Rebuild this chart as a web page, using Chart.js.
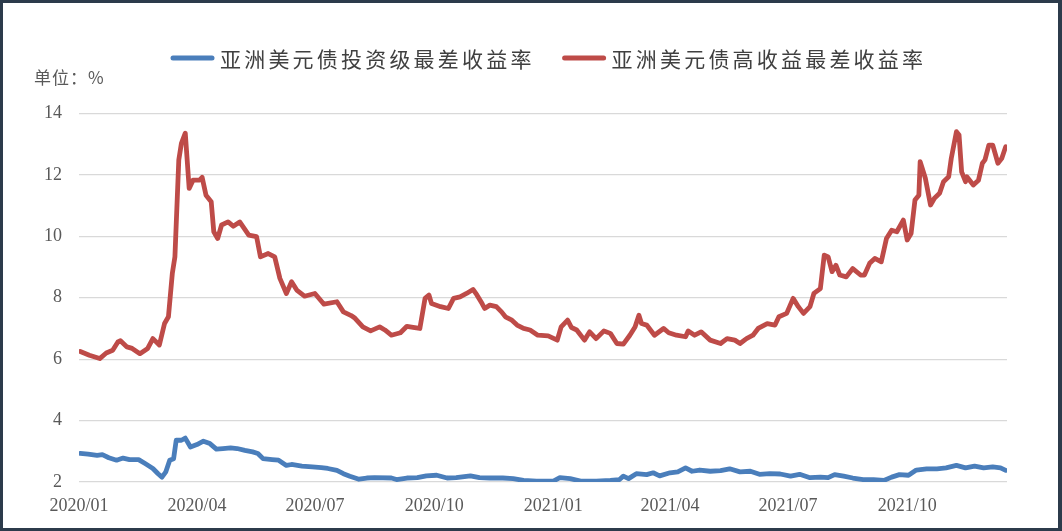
<!DOCTYPE html>
<html>
<head>
<meta charset="utf-8">
<script src="https://cdn.jsdelivr.net/npm/chart.js@4/dist/chart.umd.min.js"></script>
<style>
  html, body { margin: 0; padding: 0; background: #2c3b4b; }
  #frame { position: absolute; left: 3px; top: 3px; width: 1055px; height: 525px; background: #ffffff; }
  canvas { display: block; }
</style>
</head>
<body>
<div id="frame"><canvas id="c" width="1055" height="525"></canvas></div>
<script>
// ---- data ----
const seriesNames = ['亚洲美元债投资级最差收益率', '亚洲美元债高收益最差收益率'];
const unitLabel = '单位：%';

const tickDates = ['2020-01-01','2020-04-01','2020-07-01','2020-10-01','2021-01-01','2021-04-01','2021-07-01','2021-10-01'];
const tickLabels = ['2020/01','2020/04','2020/07','2020/10','2021/01','2021/04','2021/07','2021/10'];
const axisStart = '2020-01-01';
const axisEnd = '2021-12-17';
const yMin = 2, yMax = 14, yStep = 2;

const igDates = ['2020-01-02','2020-01-08','2020-01-15','2020-01-19','2020-01-24','2020-01-30','2020-02-04','2020-02-09','2020-02-16','2020-02-21',
 '2020-02-27','2020-03-02','2020-03-05','2020-03-08','2020-03-11','2020-03-14','2020-03-16','2020-03-20','2020-03-23','2020-03-27',
 '2020-04-01','2020-04-06','2020-04-11','2020-04-16','2020-04-21','2020-04-27','2020-05-02','2020-05-08','2020-05-14','2020-05-18',
 '2020-05-22','2020-05-29','2020-06-03','2020-06-09','2020-06-13','2020-06-21','2020-06-29','2020-07-06','2020-07-11','2020-07-18',
 '2020-07-23','2020-07-28','2020-08-04','2020-08-10','2020-08-16','2020-08-29','2020-09-02','2020-09-10','2020-09-18','2020-09-25',
 '2020-10-03','2020-10-11','2020-10-18','2020-10-29','2020-11-05','2020-11-13','2020-11-23','2020-12-01','2020-12-09','2020-12-19',
 '2021-01-01','2021-01-06','2021-01-14','2021-01-22','2021-02-03','2021-02-14','2021-02-21','2021-02-24','2021-02-28','2021-03-06',
 '2021-03-14','2021-03-19','2021-03-24','2021-04-01','2021-04-07','2021-04-13','2021-04-18','2021-04-24','2021-05-02','2021-05-10',
 '2021-05-17','2021-05-25','2021-06-02','2021-06-09','2021-06-17','2021-06-25','2021-07-03','2021-07-10','2021-07-18','2021-07-26',
 '2021-08-01','2021-08-06','2021-08-13','2021-08-20','2021-08-28','2021-09-05','2021-09-13','2021-09-19','2021-09-25','2021-10-02',
 '2021-10-08','2021-10-16','2021-10-24','2021-10-31','2021-11-08','2021-11-15','2021-11-22','2021-11-29','2021-12-06','2021-12-12',
 '2021-12-16'];
const igValues = [2.93,2.91,2.87,2.89,2.79,2.71,2.78,2.73,2.73,2.60,
 2.44,2.27,2.16,2.33,2.71,2.76,3.36,3.36,3.43,3.14,
 3.22,3.33,3.25,3.07,3.09,3.11,3.09,3.03,2.98,2.93,
 2.76,2.73,2.71,2.54,2.57,2.52,2.49,2.47,2.44,2.38,
 2.27,2.19,2.09,2.13,2.14,2.13,2.08,2.13,2.14,2.20,
 2.22,2.13,2.14,2.20,2.14,2.13,2.13,2.11,2.05,2.03,
 2.03,2.14,2.11,2.03,2.03,2.05,2.08,2.19,2.11,2.27,
 2.24,2.30,2.20,2.30,2.33,2.46,2.35,2.39,2.35,2.37,
 2.43,2.33,2.35,2.25,2.27,2.26,2.19,2.25,2.14,2.16,
 2.14,2.24,2.19,2.13,2.08,2.08,2.05,2.16,2.24,2.22,
 2.39,2.43,2.43,2.46,2.54,2.46,2.52,2.46,2.49,2.46,
 2.38];

const hyDates = ['2020-01-02','2020-01-09','2020-01-17','2020-01-22','2020-01-27','2020-01-31','2020-02-02','2020-02-07','2020-02-11','2020-02-17',
 '2020-02-23','2020-02-27','2020-03-03','2020-03-07','2020-03-10','2020-03-13','2020-03-15','2020-03-18','2020-03-20','2020-03-23',
 '2020-03-26','2020-03-29','2020-04-03','2020-04-05','2020-04-08','2020-04-12','2020-04-14','2020-04-17','2020-04-20','2020-04-25',
 '2020-04-29','2020-05-04','2020-05-11','2020-05-17','2020-05-20','2020-05-26','2020-05-31','2020-06-04','2020-06-09','2020-06-13',
 '2020-06-17','2020-06-23','2020-07-01','2020-07-08','2020-07-18','2020-07-23','2020-07-29','2020-08-01','2020-08-07','2020-08-13',
 '2020-08-20','2020-08-24','2020-08-29','2020-09-05','2020-09-10','2020-09-16','2020-09-20','2020-09-24','2020-09-27','2020-09-29',
 '2020-10-06','2020-10-12','2020-10-16','2020-10-21','2020-10-26','2020-10-31','2020-11-03','2020-11-07','2020-11-09','2020-11-13',
 '2020-11-18','2020-11-22','2020-11-25','2020-11-30','2020-12-04','2020-12-09','2020-12-14','2020-12-20','2020-12-28','2021-01-04',
 '2021-01-07','2021-01-12','2021-01-15','2021-01-19','2021-01-25','2021-01-29','2021-02-03','2021-02-09','2021-02-14','2021-02-19',
 '2021-02-24','2021-03-01','2021-03-05','2021-03-08','2021-03-10','2021-03-14','2021-03-20','2021-03-27','2021-03-31','2021-04-06',
 '2021-04-13','2021-04-15','2021-04-20','2021-04-25','2021-05-02','2021-05-10','2021-05-15','2021-05-21','2021-05-25','2021-05-30',
 '2021-06-04','2021-06-08','2021-06-15','2021-06-21','2021-06-24','2021-06-30','2021-07-05','2021-07-09','2021-07-13','2021-07-18',
 '2021-07-21','2021-07-26','2021-07-29','2021-08-01','2021-08-04','2021-08-07','2021-08-10','2021-08-15','2021-08-20','2021-08-26',
 '2021-08-29','2021-09-02','2021-09-06','2021-09-11','2021-09-15','2021-09-19','2021-09-23','2021-09-28','2021-10-01','2021-10-04',
 '2021-10-07','2021-10-10','2021-10-11','2021-10-15','2021-10-19','2021-10-22','2021-10-26','2021-10-29','2021-11-02','2021-11-04',
 '2021-11-08','2021-11-10','2021-11-12','2021-11-15','2021-11-16','2021-11-21','2021-11-25','2021-11-28','2021-11-30','2021-12-03',
 '2021-12-06','2021-12-10','2021-12-13','2021-12-16'];
const hyValues = [6.25,6.13,6.02,6.20,6.29,6.56,6.60,6.40,6.35,6.18,
 6.35,6.67,6.46,7.16,7.38,8.79,9.33,12.49,13.03,13.36,
 11.56,11.83,11.83,11.92,11.34,11.13,10.15,9.93,10.37,10.47,
 10.33,10.47,10.04,9.99,9.33,9.44,9.33,8.63,8.14,8.52,
 8.25,8.05,8.14,7.79,7.87,7.54,7.42,7.33,7.05,6.92,
 7.05,6.95,6.78,6.86,7.07,7.03,7.00,7.98,8.09,7.81,
 7.71,7.65,7.98,8.03,8.14,8.27,8.09,7.81,7.65,7.76,
 7.71,7.54,7.38,7.27,7.11,7.00,6.95,6.78,6.76,6.62,
 7.05,7.27,7.03,6.95,6.62,6.89,6.67,6.92,6.84,6.51,
 6.49,6.78,7.05,7.43,7.16,7.11,6.78,7.00,6.86,6.78,
 6.73,6.92,6.78,6.89,6.62,6.51,6.67,6.62,6.51,6.67,
 6.78,7.00,7.16,7.11,7.38,7.49,7.98,7.71,7.49,7.71,
 8.14,8.30,9.39,9.33,8.85,9.06,8.74,8.68,8.95,8.74,
 8.74,9.12,9.28,9.17,9.93,10.20,10.15,10.53,9.88,10.09,
 11.18,11.34,12.43,11.89,11.02,11.24,11.40,11.78,11.94,12.54,
 13.41,13.30,12.10,11.78,11.94,11.67,11.83,12.38,12.49,12.97,
 12.97,12.38,12.54,12.92];

// ---- helpers ----
function dayOf(s) {
  const [y, m, d] = s.split('-').map(Number);
  const [y0, m0, d0] = axisStart.split('-').map(Number);
  return Math.round((Date.UTC(y, m - 1, d) - Date.UTC(y0, m0 - 1, d0)) / 86400000);
}
const toPoints = (dates, vals) => dates.map((d, i) => ({ x: dayOf(d), y: vals[i] }));
const tickDays = tickDates.map(dayOf);

const blue = '#4a7ebb';
const red = '#be4b48';
const cjk = '"Noto Sans CJK SC", "Noto Sans", sans-serif';
const serif = '"Liberation Serif", "DejaVu Serif", serif';

const customLegend = {
  id: 'customLegend',
  afterDraw(chart) {
    const ctx = chart.ctx;
    ctx.save();
    // unit label
    ctx.font = '17px ' + cjk;
    ctx.fillStyle = '#595959';
    ctx.textBaseline = 'middle';
    ctx.textAlign = 'left';
    if ('letterSpacing' in ctx) ctx.letterSpacing = '1px';
    ctx.fillText(unitLabel, 31, 75);
    // legend
    ctx.font = '21px ' + cjk;
    if ('letterSpacing' in ctx) ctx.letterSpacing = '3.2px';
    let x = 168;
    const y = 55;
    chart.data.datasets.forEach((ds) => {
      ctx.strokeStyle = ds.borderColor;
      ctx.lineWidth = 5;
      ctx.lineCap = 'round';
      ctx.beginPath();
      ctx.moveTo(x + 2, y);
      ctx.lineTo(x + 41, y);
      ctx.stroke();
      ctx.fillStyle = '#404040';
      ctx.fillText(ds.label, x + 49, y + 1);
      x += 49 + ctx.measureText(ds.label).width + 28;
    });
    ctx.restore();
  }
};

new Chart(document.getElementById('c'), {
  type: 'line',
  data: {
    datasets: [
      { label: seriesNames[0], data: toPoints(igDates, igValues), borderColor: blue, backgroundColor: blue,
        borderWidth: 4.8, pointRadius: 0, tension: 0, borderJoinStyle: 'round', borderCapStyle: 'round' },
      { label: seriesNames[1], data: toPoints(hyDates, hyValues), borderColor: red, backgroundColor: red,
        borderWidth: 4.8, pointRadius: 0, tension: 0, borderJoinStyle: 'round', borderCapStyle: 'round' }
    ]
  },
  options: {
    responsive: false,
    animation: false,
    devicePixelRatio: 1,
    layout: { padding: { top: 110.5, left: 0, right: 51, bottom: 6 } },
    plugins: { legend: { display: false }, tooltip: { enabled: false } },
    scales: {
      x: {
        type: 'linear',
        min: dayOf(axisStart),
        max: dayOf(axisEnd),
        grid: { display: false },
        border: { display: false },
        afterBuildTicks: (scale) => { scale.ticks = tickDays.map(v => ({ value: v })); },
        afterFit: (scale) => { scale.height = 40; },
        ticks: {
          autoSkip: false,
          maxRotation: 0,
          padding: 5,
          color: '#595959',
          font: { family: serif, size: 18 },
          callback: (v) => { const i = tickDays.indexOf(v); return i >= 0 ? tickLabels[i] : ''; }
        }
      },
      y: {
        min: yMin,
        max: yMax,
        afterFit: (scale) => { scale.width = 76; },
        grid: { color: '#d9d9d9', lineWidth: 1.2, drawTicks: false },
        border: { display: false },
        ticks: {
          stepSize: yStep,
          padding: 17,
          color: '#595959',
          font: { family: serif, size: 18 }
        }
      }
    }
  },
  plugins: [customLegend]
});
</script>
</body>
</html>
